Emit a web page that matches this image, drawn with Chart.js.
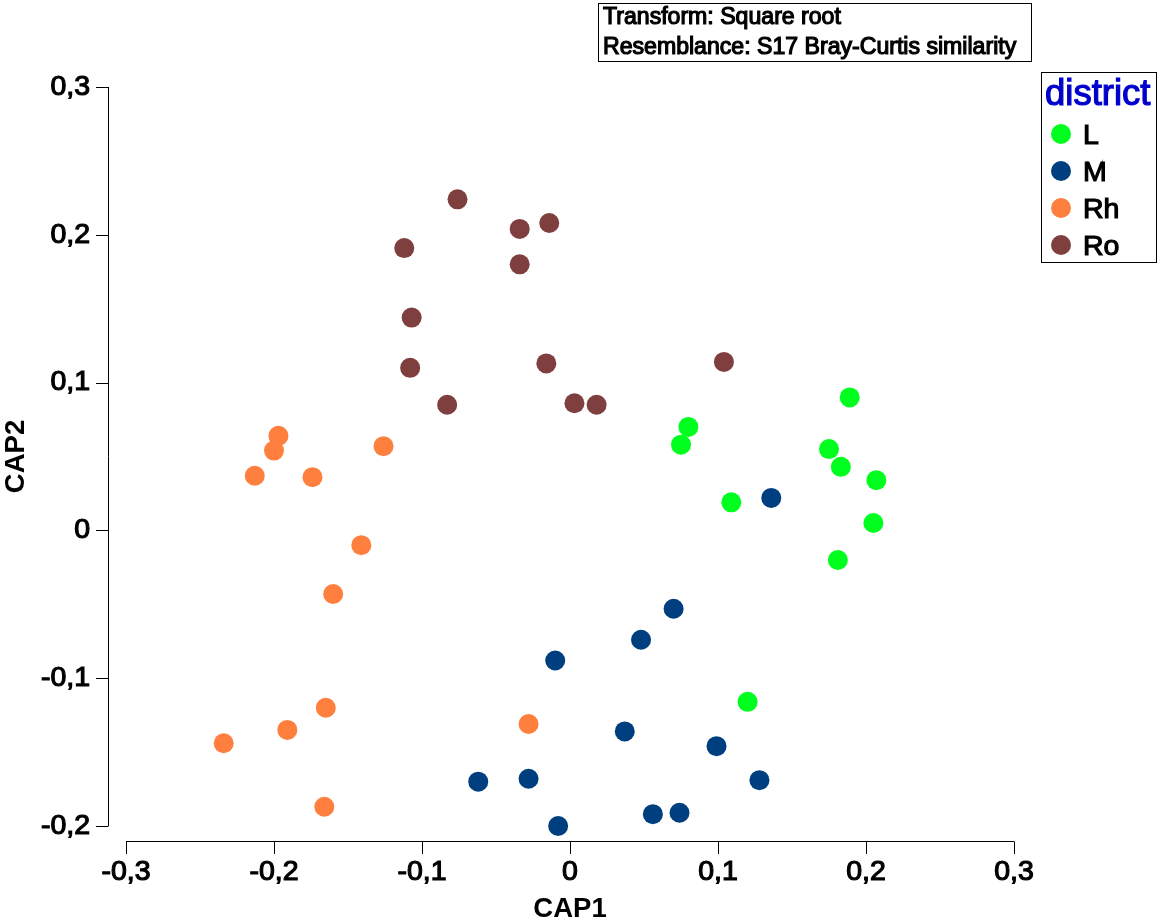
<!DOCTYPE html>
<html>
<head>
<meta charset="utf-8">
<title>CAP ordination by district</title>
<script src="https://cdn.jsdelivr.net/npm/chart.js@4/dist/chart.umd.js"></script>
<style>
    html, body { margin: 0; padding: 0; background: #fff; }
    canvas { display: block; }
</style>
</head>
<body>
<canvas id="capChart" width="1160" height="921"></canvas>
<script>
// Values
const xTicks = [-0.3, -0.2, -0.1, 0, 0.1, 0.2, 0.3];
const xTickLabels = ['-0,3', '-0,2', '-0,1', '0', '0,1', '0,2', '0,3'];
const yTicks = [-0.2, -0.1, 0, 0.1, 0.2, 0.3];
const yTickLabels = ['-0,2', '-0,1', '0', '0,1', '0,2', '0,3'];

const lX = [0.080, 0.075, 0.189, 0.175, 0.183, 0.207, 0.109, 0.205, 0.181, 0.120];
const lY = [0.070, 0.058, 0.090, 0.055, 0.043, 0.034, 0.019, 0.005, -0.020, -0.116];

const mX = [0.136, 0.070, 0.048, -0.010, 0.037, 0.099, 0.128, 0.074, 0.056, -0.028, -0.062, -0.008];
const mY = [0.022, -0.053, -0.074, -0.088, -0.136, -0.146, -0.169, -0.191, -0.192, -0.168, -0.170, -0.200];

const rhX = [-0.197, -0.200, -0.213, -0.174, -0.126, -0.141, -0.160, -0.165, -0.191, -0.234, -0.166, -0.028];
const rhY = [0.064, 0.054, 0.037, 0.036, 0.057, -0.010, -0.043, -0.120, -0.135, -0.144, -0.187, -0.131];

const roX = [-0.076, -0.112, -0.034, -0.014, -0.034, -0.107, -0.108, -0.083, -0.016, 0.003, 0.018, 0.104];
const roY = [0.224, 0.191, 0.204, 0.208, 0.180, 0.144, 0.110, 0.085, 0.113, 0.086, 0.085, 0.114];

const districts = ['L', 'M', 'Rh', 'Ro'];
const districtColors = ['#00ff1e', '#003f7f', '#ff7f3f', '#7f3f3f'];
const noteLines = ['Transform: Square root', 'Resemblance: S17 Bray-Curtis similarity'];
const legendTitle = 'district';

const FONT = '"Liberation Sans", Arial, sans-serif';

function toPoints(xs, ys) {
    return xs.map((x, i) => ({ x: x, y: ys[i] }));
}

function heavyText(ctx, text, x, y, size, color) {
    // The original text is regular width but rendered thick
    ctx.font = size + 'px ' + FONT;
    ctx.fillStyle = color;
    ctx.strokeStyle = color;
    ctx.lineWidth = 1.2;
    ctx.textAlign = 'left';
    ctx.textBaseline = 'alphabetic';
    ctx.strokeText(text, x, y);
    ctx.fillText(text, x, y);
}

// Axes stand apart from the plot area, so they are drawn from the scales here
const detachedAxes = {
    id: 'detachedAxes',
    beforeDatasetsDraw(chart) {
        const ctx = chart.ctx;
        const xScale = chart.scales.x;
        const yScale = chart.scales.y;
        const axisX = 108.5;
        const axisY = 841.5;

        ctx.save();
        ctx.strokeStyle = '#000';
        ctx.lineWidth = 1;
        ctx.beginPath();
        ctx.moveTo(axisX, yScale.getPixelForValue(0.3));
        ctx.lineTo(axisX, yScale.getPixelForValue(-0.2));
        yTicks.forEach(v => {
            const py = Math.round(yScale.getPixelForValue(v)) + 0.5;
            ctx.moveTo(96, py);
            ctx.lineTo(axisX, py);
        });
        ctx.moveTo(xScale.getPixelForValue(-0.3), axisY);
        ctx.lineTo(xScale.getPixelForValue(0.3), axisY);
        xTicks.forEach(v => {
            const px = Math.round(xScale.getPixelForValue(v)) + 0.5;
            ctx.moveTo(px, axisY);
            ctx.lineTo(px, 854);
        });
        ctx.stroke();
        ctx.restore();
    }
};

// Note box at the top and district legend on the right
const noteAndLegend = {
    id: 'noteAndLegend',
    afterDraw(chart) {
        const ctx = chart.ctx;
        ctx.save();
        ctx.strokeStyle = '#000';
        ctx.lineWidth = 1;
        ctx.strokeRect(598.5, 3.5, 433, 58);
        ctx.strokeRect(1041.5, 72.5, 115, 190);

        heavyText(ctx, noteLines[0], 603, 24, 23.1, '#000');
        heavyText(ctx, noteLines[1], 603, 54, 23.1, '#000');
        heavyText(ctx, legendTitle, 1045, 105, 36.5, '#0000cc');

        chart.data.datasets.forEach((ds, i) => {
            const cy = 134 + i * 37;
            ctx.beginPath();
            ctx.arc(1061, cy, 10, 0, Math.PI * 2);
            ctx.fillStyle = ds.backgroundColor;
            ctx.fill();
            heavyText(ctx, ds.label, 1083, cy + 10, 28.5, '#000');
        });
        ctx.restore();
    }
};

const allX = [lX, mX, rhX, roX];
const allY = [lY, mY, rhY, roY];

new Chart(document.getElementById('capChart'), {
    type: 'scatter',
    data: {
        datasets: districts.map((name, i) => ({
            label: name,
            data: toPoints(allX[i], allY[i]),
            backgroundColor: districtColors[i],
            borderColor: districtColors[i],
            pointRadius: 10,
            pointBorderWidth: 0,
            clip: false
        }))
    },
    options: {
        responsive: false,
        animation: false,
        layout: {
            padding: { top: 87, right: 146, bottom: 0, left: 0 }
        },
        plugins: {
            legend: { display: false },
            title: { display: false },
            tooltip: { enabled: false }
        },
        scales: {
            x: {
                type: 'linear',
                min: -0.3,
                max: 0.3,
                grid: { display: false, drawTicks: false },
                border: { display: false },
                afterBuildTicks: axis => { axis.ticks = xTicks.map(v => ({ value: v })); },
                afterFit: axis => { axis.height = 95; },
                ticks: {
                    autoSkip: false,
                    maxRotation: 0,
                    padding: 29,
                    color: '#000',
                    textStrokeColor: '#000',
                    textStrokeWidth: 1.2,
                    font: { family: FONT, size: 28.5 },
                    callback: (value, index) => xTickLabels[index]
                },
                title: {
                    display: true,
                    text: 'CAP1',
                    color: '#000',
                    font: { family: FONT, size: 27.5, weight: 'bold', lineHeight: 1 },
                    padding: { top: 0, bottom: -2 }
                }
            },
            y: {
                type: 'linear',
                min: -0.2,
                max: 0.3,
                grid: { display: false, drawTicks: false },
                border: { display: false },
                afterBuildTicks: axis => { axis.ticks = yTicks.map(v => ({ value: v })); },
                afterFit: axis => { axis.width = 126; },
                ticks: {
                    autoSkip: false,
                    padding: 36,
                    color: '#000',
                    textStrokeColor: '#000',
                    textStrokeWidth: 1.2,
                    font: { family: FONT, size: 28.5 },
                    callback: (value, index) => yTickLabels[index]
                },
                title: {
                    display: true,
                    text: 'CAP2',
                    color: '#000',
                    font: { family: FONT, size: 27.5, weight: 'bold', lineHeight: 1 },
                    padding: { top: 3, bottom: 0 }
                }
            }
        }
    },
    plugins: [detachedAxes, noteAndLegend]
});
</script>
</body>
</html>
